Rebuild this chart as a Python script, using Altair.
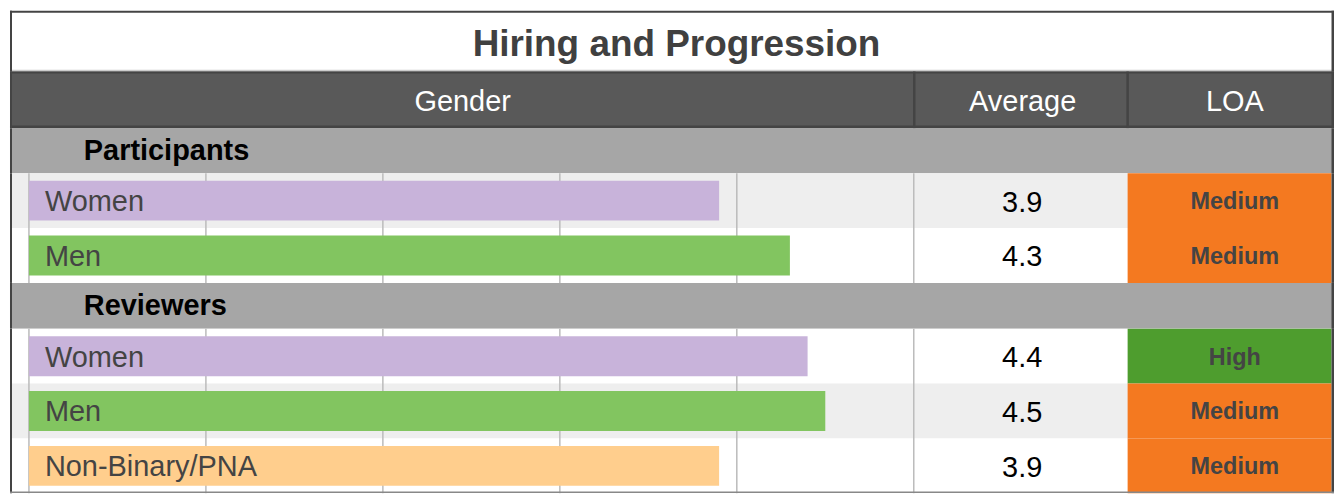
import altair as alt
import pandas as pd

# ---------------- data ----------------
title_text = "Hiring and Progression"
column_headers = ["Gender", "Average", "LOA"]
sections = ["Participants", "Reviewers"]
row_section = ["Participants", "Participants", "Reviewers", "Reviewers", "Reviewers"]
row_gender = ["Women", "Men", "Women", "Men", "Non-Binary/PNA"]
row_average = [3.9, 4.3, 4.4, 4.5, 3.9]
row_loa = ["Medium", "Medium", "High", "Medium", "Medium"]
row_shaded = [True, False, False, True, False]
grid_values = [0, 1, 2, 3, 4, 5]
bar_domain = [0, 5]

gender_colors = {"Women": "#C8B3DA", "Men": "#82C560", "Non-Binary/PNA": "#FFCE8D"}
loa_colors = {"Medium": "#F47920", "High": "#4E9D2E"}

# ---------------- styling / layout ----------------
FONT = "Liberation Sans"
W = 1328
GENDER_END = 906.5
LOA_START = 1121
RIGHT = W - 2.5
AVG_CENTER = (GENDER_END + LOA_START) / 2 + 1.5
LOA_CENTER = 1228.5
BORDER = "#444444"
HEADER_BG = "#595959"
SECTION_BG = "#A6A6A6"
SHADE = "#EEEEEE"
GRID = "#BBBBBB"
ROW_H = 55
TITLE_H = 61
HEADER_H = 57
SECTION_H = [45, 46]

xscale = alt.Scale(domain=bar_domain, range=[19, GENDER_END], nice=False, zero=True)

one = pd.DataFrame({"k": [0]})


def borders(h):
    left = alt.Chart(one).mark_rule(color=BORDER, strokeWidth=2).encode(
        x=alt.value(1), y=alt.value(0), y2=alt.value(h))
    right = alt.Chart(one).mark_rule(color=BORDER, strokeWidth=2.5).encode(
        x=alt.value(W - 1.25), y=alt.value(0), y2=alt.value(h))
    return [left, right]


# ---- title panel ----
title_df = pd.DataFrame({"t": [title_text]})
title_panel = alt.layer(
    alt.Chart(one).mark_rule(color=BORDER, strokeWidth=2).encode(
        x=alt.value(0), x2=alt.value(W), y=alt.value(1)),
    alt.Chart(one).mark_rule(color="#CCCCCC", strokeWidth=1.5).encode(
        x=alt.value(0), x2=alt.value(W), y=alt.value(TITLE_H - 1)),
    alt.Chart(title_df).mark_text(font=FONT, fontSize=37, fontWeight="bold", color="#404040",
                                  align="center", baseline="alphabetic").encode(
        x=alt.value(668.5), y=alt.value(45.5), text="t:N"),
    *borders(TITLE_H),
).properties(width=W, height=TITLE_H)

# ---- header panel ----
hdr_df = pd.DataFrame({"h": column_headers,
                       "xpos": [454, AVG_CENTER + 0.5, LOA_CENTER]})
header_panel = alt.layer(
    alt.Chart(one).mark_rect(color=HEADER_BG).encode(
        x=alt.value(0), x2=alt.value(W), y=alt.value(0), y2=alt.value(HEADER_H)),
    alt.Chart(one).mark_rule(color=BORDER, strokeWidth=2).encode(
        x=alt.value(0), x2=alt.value(W), y=alt.value(1)),
    alt.Chart(one).mark_rule(color=BORDER, strokeWidth=3).encode(
        x=alt.value(0), x2=alt.value(W), y=alt.value(HEADER_H - 1.5)),
    alt.Chart(one).mark_rule(color=BORDER, strokeWidth=2.5).encode(
        x=alt.value(GENDER_END + 0.5), y=alt.value(0), y2=alt.value(HEADER_H)),
    alt.Chart(one).mark_rule(color=BORDER, strokeWidth=2.5).encode(
        x=alt.value(LOA_START), y=alt.value(0), y2=alt.value(HEADER_H)),
    alt.Chart(hdr_df).mark_text(font=FONT, fontSize=29, color="white",
                                align="center", baseline="alphabetic").encode(
        x=alt.X("xpos:Q", scale=None), y=alt.value(40), text="h:N"),
    *borders(HEADER_H),
).properties(width=W, height=HEADER_H)


# ---- section panel ----
def section_panel(name, h):
    df = pd.DataFrame({"s": [name]})
    return alt.layer(
        alt.Chart(one).mark_rect(color=SECTION_BG).encode(
            x=alt.value(0), x2=alt.value(W), y=alt.value(0), y2=alt.value(h)),
        alt.Chart(df).mark_text(font=FONT, fontSize=29, fontWeight="bold", color="#000000",
                                align="left", baseline="middle").encode(
            x=alt.value(74), y=alt.value(h / 2 + 0.5), text="s:N"),
        *borders(h),
    ).properties(width=W, height=h)


# ---- data rows panel ----
def rows_panel(section, bottom_line=False):
    idx = [i for i, s in enumerate(row_section) if s == section]
    df = pd.DataFrame({
        "row": [f"{section}-{i}" for i in idx],
        "gender": [row_gender[i] for i in idx],
        "avg": [row_average[i] for i in idx],
        "avg_txt": [f"{row_average[i]:.1f}" for i in idx],
        "loa": [row_loa[i] for i in idx],
        "bg": [SHADE if row_shaded[i] else "#FFFFFF" for i in idx],
        "bar_col": [gender_colors[row_gender[i]] for i in idx],
        "loa_col": [loa_colors[row_loa[i]] for i in idx],
    })
    h = ROW_H * len(idx)
    order = list(df["row"])
    y = alt.Y("row:N", sort=order, axis=None,
              scale=alt.Scale(paddingInner=0, paddingOuter=0))
    base = alt.Chart(df)
    grid_df = pd.DataFrame({"v": grid_values})
    layers = [
        base.mark_rect().encode(y=y, x=alt.value(0), x2=alt.value(RIGHT),
                                fill=alt.Fill("bg:N", scale=None)),
        base.mark_rect().encode(y=y, x=alt.value(LOA_START), x2=alt.value(RIGHT),
                                fill=alt.Fill("loa_col:N", scale=None)),
        alt.Chart(grid_df).mark_rule(color=GRID, strokeWidth=1.5).encode(
            x=alt.X("v:Q", scale=xscale, axis=None)),
        base.mark_bar(height=40).encode(
            y=y, x=alt.X("avg:Q", scale=xscale, axis=None),
            fill=alt.Fill("bar_col:N", scale=None)),
        base.mark_text(font=FONT, fontSize=29, color="#444444", align="left",
                       baseline="middle", dy=1.5).encode(
            y=y, x=alt.value(35), text="gender:N"),
        base.mark_text(font=FONT, fontSize=29, color="#000000", align="center",
                       baseline="middle", dy=2).encode(
            y=y, x=alt.value(AVG_CENTER), text="avg_txt:N"),
        base.mark_text(font=FONT, fontSize=23.5, fontWeight="bold", color="#444444",
                       align="center", baseline="middle", dy=1.5).encode(
            y=y, x=alt.value(LOA_CENTER), text="loa:N"),
        *borders(h),
    ]
    if bottom_line:
        layers.append(alt.Chart(one).mark_rule(color="#888888", strokeWidth=1.5).encode(
            x=alt.value(0), x2=alt.value(W), y=alt.value(h - 1)))
    return alt.layer(*layers).properties(width=W, height=h)


chart = alt.vconcat(
    title_panel,
    header_panel,
    section_panel(sections[0], SECTION_H[0]),
    rows_panel(sections[0]),
    section_panel(sections[1], SECTION_H[1]),
    rows_panel(sections[1], bottom_line=True),
    spacing=0,
    bounds="flush",
).resolve_scale(x="independent", y="independent").properties(
    padding=0, background="white"
).configure_view(stroke=None).configure_concat(spacing=0)

chart.save("out.html", embed_options={"renderer": "svg", "actions": False})
